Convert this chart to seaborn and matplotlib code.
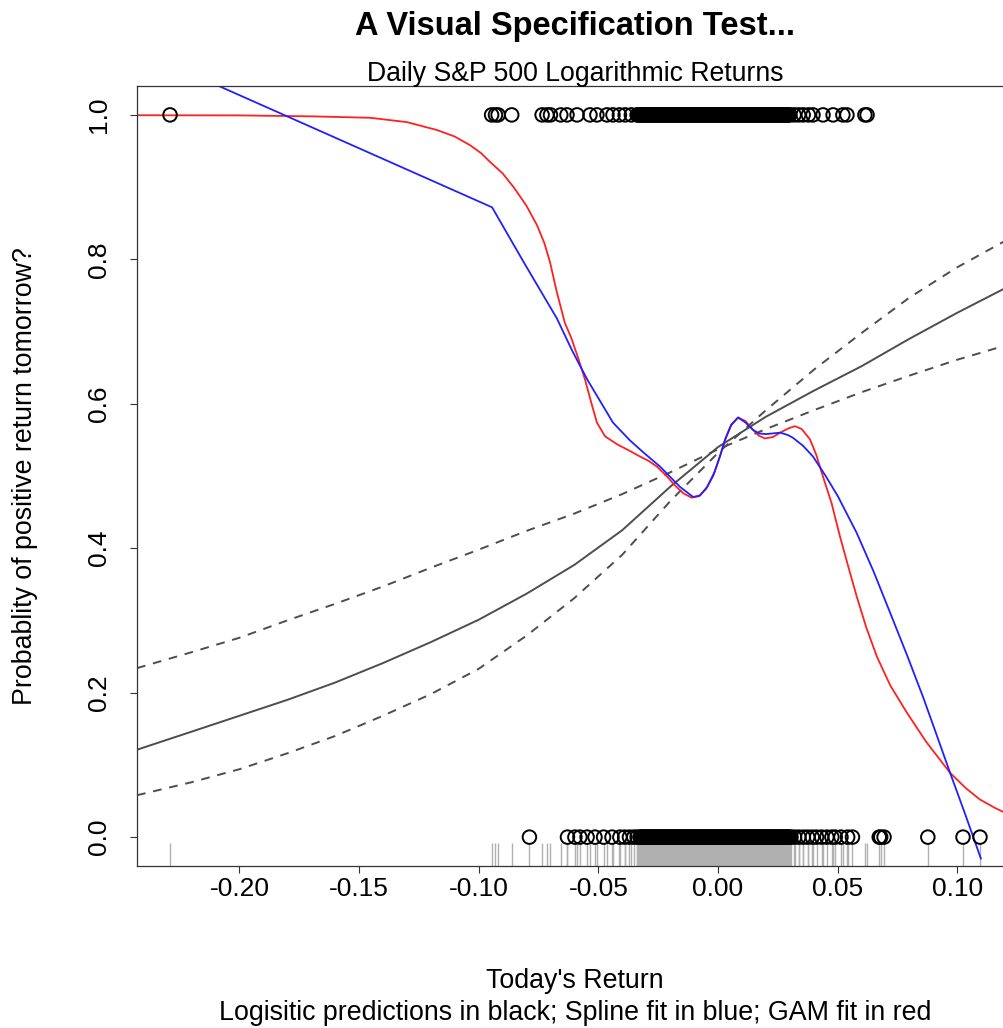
import numpy as np
import pandas as pd
import seaborn as sns
import matplotlib
matplotlib.use("Agg")
import matplotlib.pyplot as plt

# returns on days followed by an up day (y = 1) and a down day (y = 0)
up_tails = [-0.2290, -0.0946, -0.0930, -0.0919, -0.0862, -0.0735, -0.0715, -0.0700, -0.0657,
            -0.0631, -0.0589, -0.0535, -0.0506, -0.0464, -0.0439, -0.0412, -0.0388, -0.0362,
            0.0318, 0.0337, 0.0356, 0.0378, 0.0397, 0.0439, 0.0481, 0.0522, 0.0539, 0.0614, 0.0623]
up_core = [-0.0338, -0.0334, -0.0329, -0.0325, -0.0320, -0.0316, -0.0311, -0.0307, -0.0302, -0.0298,
           -0.0293, -0.0289, -0.0284, -0.0280, -0.0275, -0.0271, -0.0266, -0.0262, -0.0257, -0.0253,
           -0.0248, -0.0244, -0.0239, -0.0235, -0.0230, -0.0226, -0.0221, -0.0217, -0.0212, -0.0208,
           -0.0203, -0.0199, -0.0194, -0.0190, -0.0185, -0.0181, -0.0176, -0.0172, -0.0167, -0.0163,
           -0.0158, -0.0154, -0.0149, -0.0145, -0.0140, -0.0136, -0.0131, -0.0127, -0.0122, -0.0118,
           -0.0113, -0.0109, -0.0104, -0.0100, -0.0095, -0.0091, -0.0086, -0.0082, -0.0077, -0.0073,
           -0.0068, -0.0064, -0.0059, -0.0055, -0.0050, -0.0046, -0.0041, -0.0037, -0.0032, -0.0028,
           -0.0023, -0.0019, -0.0014, -0.0010, -0.0005, -0.0001, 0.0004, 0.0008, 0.0013, 0.0017,
           0.0022, 0.0026, 0.0031, 0.0035, 0.0040, 0.0044, 0.0049, 0.0053, 0.0058, 0.0062,
           0.0067, 0.0071, 0.0076, 0.0080, 0.0085, 0.0089, 0.0094, 0.0098, 0.0103, 0.0107,
           0.0112, 0.0116, 0.0121, 0.0125, 0.0130, 0.0134, 0.0139, 0.0143, 0.0148, 0.0152,
           0.0157, 0.0161, 0.0166, 0.0170, 0.0175, 0.0179, 0.0184, 0.0188, 0.0193, 0.0197,
           0.0202, 0.0206, 0.0211, 0.0215, 0.0220, 0.0224, 0.0229, 0.0233, 0.0238, 0.0242,
           0.0247, 0.0251, 0.0256, 0.0260, 0.0265, 0.0269, 0.0274, 0.0278, 0.0283, 0.0287,
           0.0292, 0.0296, 0.0300]
down_tails = [-0.0788, -0.0629, -0.0598, -0.0577, -0.0547, -0.0514, -0.0478, -0.0443, -0.0410,
              -0.0390, -0.0370, -0.0352, -0.0338, 0.0320, 0.0338, 0.0357, 0.0375, 0.0394, 0.0412,
              0.0433, 0.0455, 0.0476, 0.0490, 0.0514, 0.0542, 0.0562, 0.0674, 0.0680, 0.0694,
              0.0877, 0.1024, 0.1095]
down_core = [-0.0326, -0.0322, -0.0317, -0.0313, -0.0308, -0.0304, -0.0299, -0.0295, -0.0290, -0.0286,
             -0.0281, -0.0277, -0.0272, -0.0268, -0.0263, -0.0259, -0.0254, -0.0250, -0.0245, -0.0241,
             -0.0236, -0.0232, -0.0227, -0.0223, -0.0218, -0.0214, -0.0209, -0.0205, -0.0200, -0.0196,
             -0.0191, -0.0187, -0.0182, -0.0178, -0.0173, -0.0169, -0.0164, -0.0160, -0.0155, -0.0151,
             -0.0146, -0.0142, -0.0137, -0.0133, -0.0128, -0.0124, -0.0119, -0.0115, -0.0110, -0.0106,
             -0.0101, -0.0097, -0.0092, -0.0088, -0.0083, -0.0079, -0.0074, -0.0070, -0.0065, -0.0061,
             -0.0056, -0.0052, -0.0047, -0.0043, -0.0038, -0.0034, -0.0029, -0.0025, -0.0020, -0.0016,
             -0.0011, -0.0007, -0.0002, 0.0002, 0.0007, 0.0011, 0.0016, 0.0020, 0.0025, 0.0029,
             0.0034, 0.0038, 0.0043, 0.0047, 0.0052, 0.0056, 0.0061, 0.0065, 0.0070, 0.0074,
             0.0079, 0.0083, 0.0088, 0.0092, 0.0097, 0.0101, 0.0106, 0.0110, 0.0115, 0.0119,
             0.0124, 0.0128, 0.0133, 0.0137, 0.0142, 0.0146, 0.0151, 0.0155, 0.0160, 0.0164,
             0.0169, 0.0173, 0.0178, 0.0182, 0.0187, 0.0191, 0.0196, 0.0200, 0.0205, 0.0209,
             0.0214, 0.0218, 0.0223, 0.0227, 0.0232, 0.0236, 0.0241, 0.0245, 0.0250, 0.0254,
             0.0259, 0.0263, 0.0268, 0.0272, 0.0277, 0.0281, 0.0286, 0.0290, 0.0295, 0.0299, 0.0305]

# fitted curves
logit_x = [-0.2428, -0.22, -0.20, -0.18, -0.16, -0.14, -0.12, -0.10, -0.08, -0.06, -0.04,
           -0.02, 0.00, 0.02, 0.04, 0.06, 0.08, 0.10, 0.1235]
logit_fit = [0.121, 0.146, 0.168, 0.190, 0.214, 0.241, 0.270, 0.301, 0.337, 0.377, 0.425,
             0.485, 0.540, 0.582, 0.618, 0.652, 0.690, 0.726, 0.766]
ci_upper_left = [0.234, 0.256, 0.276, 0.300, 0.323, 0.347, 0.373, 0.398, 0.424, 0.448, 0.475,
                 0.505, 0.537, 0.565, 0.591, 0.616, 0.639, 0.661, 0.684]
ci_lower_left = [0.058, 0.076, 0.094, 0.116, 0.140, 0.168, 0.198, 0.233, 0.279, 0.331, 0.391,
                 0.465, 0.532, 0.591, 0.647, 0.698, 0.747, 0.789, 0.832]

spline_x = [-0.2290, -0.0944, -0.0810, -0.0673, -0.0610, -0.0547, -0.0439, -0.0370, -0.0313,
            -0.0242, -0.0159, -0.0104, -0.0075, -0.0045, -0.0015, 0.0008, 0.0030, 0.0055,
            0.0084, 0.0115, 0.0146, 0.0170, 0.0200, 0.0230, 0.0260, 0.0290, 0.0313, 0.0355,
            0.0397, 0.0450, 0.0501, 0.0580, 0.0650, 0.0719, 0.0790, 0.0857, 0.0910, 0.0970,
            0.1035, 0.1099]
spline_fit = [1.070, 0.872, 0.795, 0.718, 0.674, 0.634, 0.574, 0.550, 0.533, 0.513, 0.485,
              0.471, 0.473, 0.485, 0.505, 0.527, 0.551, 0.571, 0.581, 0.574, 0.564, 0.559,
              0.558, 0.559, 0.560, 0.557, 0.553, 0.542, 0.527, 0.500, 0.472, 0.421, 0.368,
              0.311, 0.252, 0.194, 0.145, 0.089, 0.030, -0.030]

gam_x = [-0.2428, -0.2000, -0.1700, -0.1454, -0.1300, -0.1174, -0.1100, -0.1036, -0.0990,
         -0.0953, -0.0900, -0.0852, -0.0800, -0.0756, -0.0725, -0.0702, -0.0673, -0.0640,
         -0.0614, -0.0585, -0.0556, -0.0530, -0.0506, -0.0472, -0.0422, -0.0370, -0.0326,
         -0.0290, -0.0255, -0.0215, -0.0180, -0.0145, -0.0110, -0.0080, -0.0050, -0.0020,
         0.0008, 0.0030, 0.0055, 0.0084, 0.0115, 0.0146, 0.0170, 0.0196, 0.0230, 0.0260,
         0.0295, 0.0322, 0.0350, 0.0384, 0.0410, 0.0439, 0.0475, 0.0510, 0.0545, 0.0580,
         0.0620, 0.0664, 0.0720, 0.0790, 0.0870, 0.0970, 0.1035, 0.1095, 0.1160, 0.1235]
gam_fit = [0.9995, 0.9993, 0.998, 0.996, 0.990, 0.979, 0.970, 0.958, 0.947, 0.935, 0.919,
           0.899, 0.874, 0.847, 0.822, 0.796, 0.754, 0.712, 0.692, 0.664, 0.634, 0.602,
           0.574, 0.555, 0.544, 0.535, 0.527, 0.521, 0.513, 0.500, 0.487, 0.476, 0.470,
           0.472, 0.482, 0.500, 0.527, 0.550, 0.570, 0.581, 0.576, 0.564, 0.556, 0.552,
           0.554, 0.560, 0.566, 0.569, 0.565, 0.551, 0.530, 0.499, 0.462, 0.416, 0.374,
           0.333, 0.290, 0.250, 0.210, 0.172, 0.132, 0.089, 0.068, 0.052, 0.040, 0.028]

x_ticks = [-0.20, -0.15, -0.10, -0.05, 0.00, 0.05, 0.10]
x_tick_labels = ["-0.20", "-0.15", "-0.10", "-0.05", "0.00", "0.05", "0.10"]
y_ticks = [0.0, 0.2, 0.4, 0.6, 0.8, 1.0]
y_tick_labels = ["0.0", "0.2", "0.4", "0.6", "0.8", "1.0"]

sns.set_theme(style="white")
plt.rcParams["font.family"] = ["Liberation Sans", "DejaVu Sans"]
plt.rcParams["axes.unicode_minus"] = False
plt.rcParams["text.color"] = "black"

up_all = up_tails + up_core
down_all = down_tails + down_core
pts = pd.DataFrame({"ret": up_all + down_all,
                    "up": [1] * len(up_all) + [0] * len(down_all)})

W, H = 1004, 1028
fig = plt.figure(figsize=(W / 100, H / 100), dpi=100)
ax = fig.add_axes([137 / W, 162 / H, 876.5 / W, 780 / H])

sns.scatterplot(data=pts, x="ret", y="up", marker="o", s=95, facecolor="none",
                edgecolor="black", linewidth=1.4, ax=ax, zorder=3)
sns.rugplot(data=pts, x="ret", height=0.03, color="#b0b0b0", lw=1.0, ax=ax, zorder=2)

lc = "#4d4d4d"
sns.lineplot(x=logit_x, y=logit_fit, color=lc, lw=1.4, estimator=None, ax=ax)
ax.plot(logit_x, ci_upper_left, color=lc, lw=1.4, dashes=(4.5, 4))
ax.plot(logit_x, ci_lower_left, color=lc, lw=1.4, dashes=(4.5, 4))
sns.lineplot(x=gam_x, y=gam_fit, color="#ff2020", lw=1.3, estimator=None, ax=ax)
sns.lineplot(x=spline_x, y=spline_fit, color="#2020ff", lw=1.3, estimator=None, ax=ax)

ax.set_xlim(-0.2428, 0.1235)
ax.set_ylim(-0.04, 1.04)
ax.set_xticks(x_ticks)
ax.set_xticklabels(x_tick_labels)
ax.set_yticks(y_ticks)
ax.set_yticklabels(y_tick_labels, rotation=90, va="center")
ax.set_xlabel("")
ax.set_ylabel("")
ax.tick_params(axis="both", direction="out", length=5, width=0.8, color="#333333",
               labelsize=19, labelcolor="black", bottom=True, left=True)
ax.tick_params(axis="x", pad=3)
ax.tick_params(axis="y", pad=14)
for sp in ax.spines.values():
    sp.set_color("#333333")
    sp.set_linewidth(0.9)

cx = 575 / W
fig.text(cx, 1 - 27 / H, "A Visual Specification Test...", ha="center", va="center",
         fontsize=23.5, fontweight="bold")
fig.text(cx, 1 - 74 / H, "Daily S&P 500 Logarithmic Returns", ha="center", va="center", fontsize=19.2)
fig.text(cx, 1 - 981 / H, "Today's Return", ha="center", va="center", fontsize=19.3)
fig.text(cx, 1 - 1013 / H, "Logisitic predictions in black; Spline fit in blue; GAM fit in red",
         ha="center", va="center", fontsize=19.3)
fig.text(25 / W, 1 - 476 / H, "Probablity of positive return tomorrow?", ha="center", va="center",
         rotation=90, fontsize=19.3)

fig.savefig("out.png", dpi=100)
